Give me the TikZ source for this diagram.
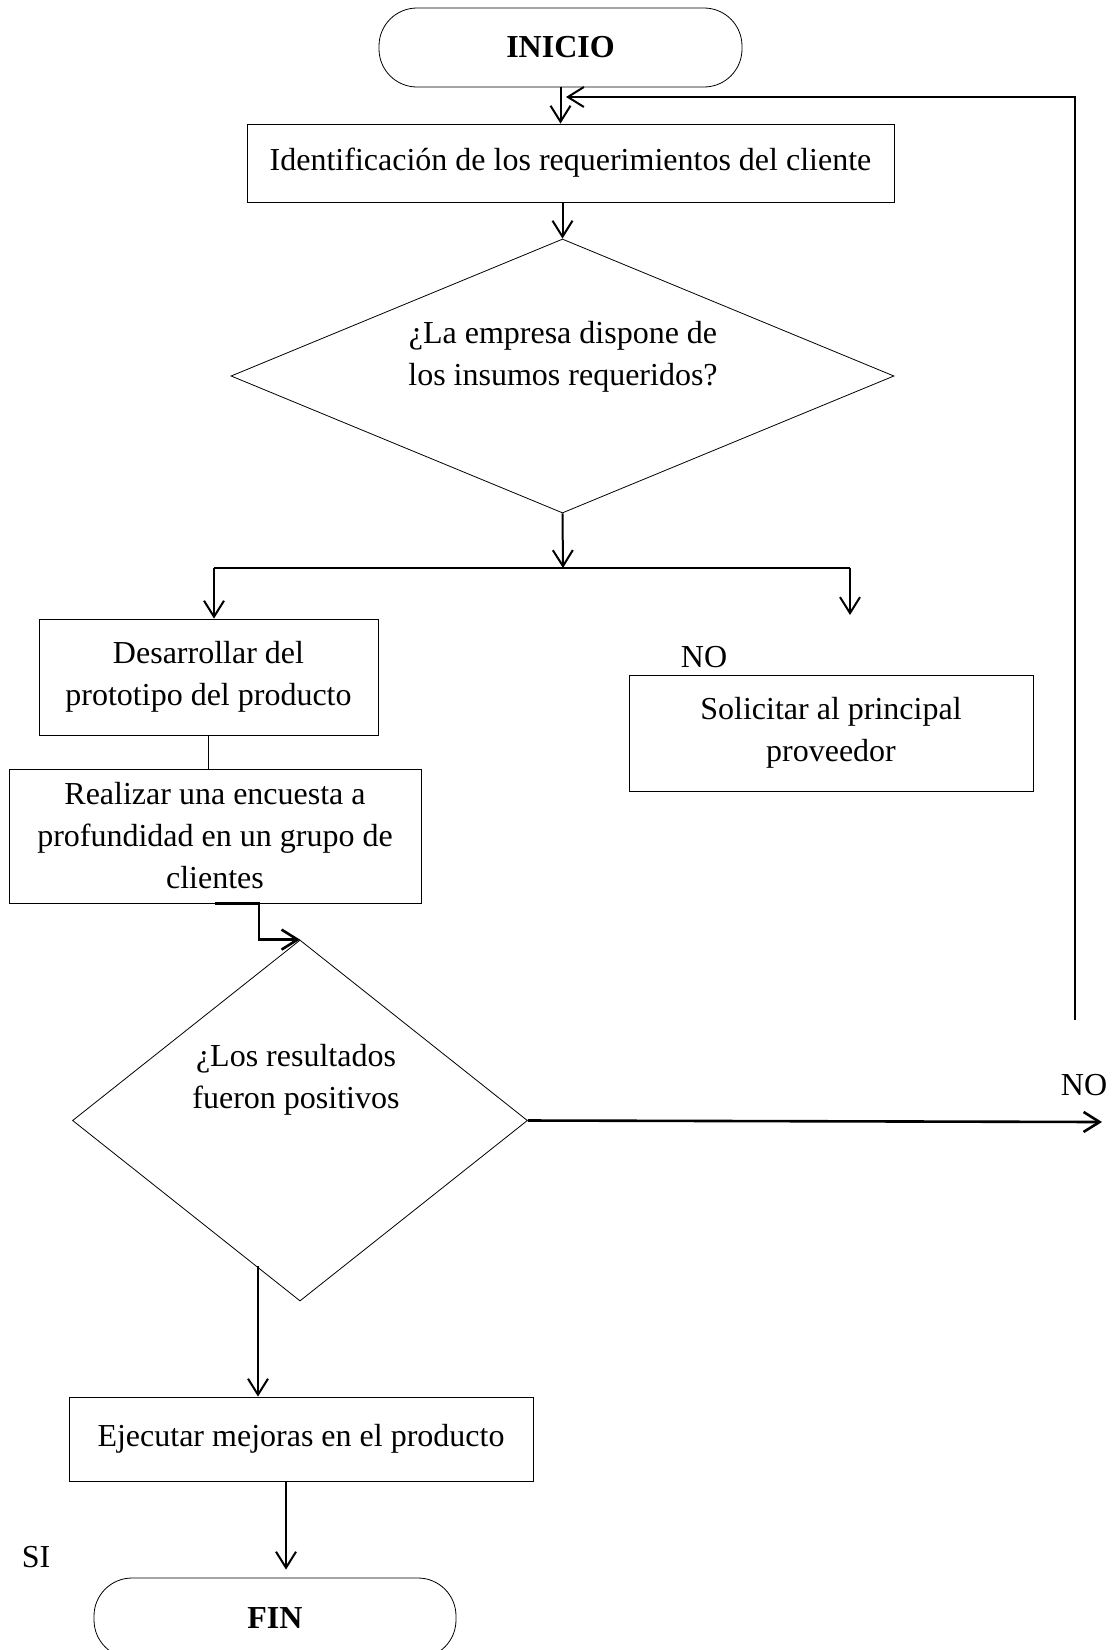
\documentclass[tikz,border=0pt]{standalone}
\usepackage{fontspec}
\setmainfont{Liberation Serif}
\usetikzlibrary{shapes.geometric,arrows.meta,positioning}

\tikzset{
	box/.style={draw, line width=0.4pt, inner sep=0pt, align=center},
	term/.style={draw, line width=0.4pt, rounded corners=19pt, inner sep=0pt, font=\fontsize{16}{21}\selectfont\bfseries},
	decision/.style={draw, diamond, line width=0.4pt, inner sep=0pt},
	conn/.style={line width=1pt, -{Straight Barb[length=8pt,width=10pt]}},
	link/.style={line width=0.7pt},
}

\begin{document}
\begin{tikzpicture}[x=0.5pt, y=-0.5pt, font=\fontsize{16}{21}\selectfont]
	\useasboundingbox (0,0) rectangle (1113,1650);

	\node[term, minimum width=181.5pt, minimum height=39.5pt] (inicio) at (560.5,47.5) {INICIO};
	\node[box, minimum width=323.5pt, minimum height=39pt] (ident) at (570.5,163) {Identificación de los requerimientos del cliente};
	\node[decision, minimum width=331.5pt, minimum height=137pt] (d1) at (562.5,376) {};
	\node[align=center] (d1txt) at (563,357) {¿La empresa dispone de\\los insumos requeridos?};
	\node[box, minimum width=169.5pt, minimum height=58pt] (desarr) at (208.5,677) {Desarrollar del\\prototipo del producto};
	\node[box, minimum width=206pt, minimum height=67pt] (encuesta) at (215,836) {Realizar una encuesta a\\profundidad en un grupo de\\clientes};
	\node[box, minimum width=202pt, minimum height=58pt] (solic) at (831,733) {Solicitar al principal\\proveedor};
	\node[decision, minimum width=227.5pt, minimum height=180.5pt] (d2) at (300,1120.5) {};
	\node[align=center] (d2txt) at (296,1080) {¿Los resultados\\fueron positivos};
	\node[box, minimum width=232pt, minimum height=42pt] (ejec) at (301,1439) {Ejecutar mejoras en el producto};
	\node[term, minimum width=181pt, minimum height=40pt] (fin) at (275,1618) {FIN};

	\node (no1) at (704,657) {NO};
	\node (no2) at (1084,1085) {NO};
	\node (si) at (36,1557) {SI};

	\coordinate (loopstart) at (1075,1020);
	\coordinate (loopend) at (566,97);
	\coordinate (split) at (563,568);
	\coordinate (splitL) at (214,568);
	\coordinate (splitR) at (850,568);
	\coordinate (noend) at (850,615);
	\coordinate (noright) at (1102,1122);
	\coordinate (sistart) at (258,1266);

	\draw[conn] (inicio.south) -- (inicio.south |- ident.north);
	\draw[conn] (loopstart) |- (loopend);
	\draw[conn] (ident.south -| d1.north) -- (d1.north);
	\draw[conn] (d1.south) -- (split);
	\draw[link, line width=1.3pt] (splitL) -- (splitR);
	\draw[conn] (splitL) -- (splitL |- desarr.north);
	\draw[conn] (splitR) -- (noend);
	\draw[link] (desarr.south) -- (desarr.south |- encuesta.north);
	\draw[conn, line width=1.3pt] (encuesta.south) -- ++(44,0) |- (d2.north);
	\draw[conn, line width=1.3pt] (d2.east) -- (noright);
	\draw[conn] (sistart) -- (sistart |- ejec.north);
	\draw[conn, shorten >=4pt] ([xshift=-7.5pt]ejec.south) -- ([xshift=-7.5pt]ejec.south |- fin.north);
\end{tikzpicture}
\end{document}
